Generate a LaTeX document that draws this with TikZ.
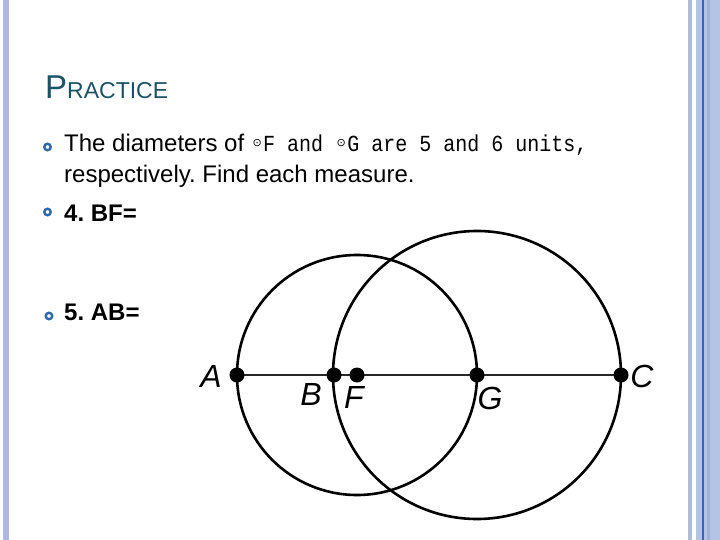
\documentclass[tikz,border=0pt]{standalone}
\usepackage{fontspec}
\setmainfont{Liberation Sans}
\newfontfamily\monofont[FakeStretch=0.87]{Liberation Mono}
\newfontfamily\symfont{DejaVu Sans}
\usepackage{xcolor}
\usepackage{tikz}
\definecolor{titleteal}{RGB}{28, 82, 102}
\definecolor{bulletblue}{RGB}{46, 106, 170}
\definecolor{stripblue}{RGB}{180, 196, 230}
\definecolor{stripgray}{RGB}{176, 188, 214}
\definecolor{stripdark}{RGB}{160, 178, 214}
\definecolor{lineblue}{RGB}{60, 100, 176}
\definecolor{leftstrip}{RGB}{176, 184, 224}
\definecolor{linegray}{RGB}{40, 40, 40}
\usetikzlibrary{positioning, calc}
\frenchspacing

% small circle sign, one mono cell wide
\newcommand{\circsign}{\makebox[12pt]{\raisebox{5pt}{\symfont\fontsize{11}{11}\selectfont ⊙}}}

\begin{document}
\begin{tikzpicture}[
    x=1pt, y=-1pt,
    every node/.style={inner sep=0pt},
    bodytext/.style={anchor=base west, font=\fontsize{24}{28}\selectfont},
    monotext/.style={anchor=base west, font=\monofont\fontsize{23}{27}\selectfont},
    bulletmark/.style={circle, draw=bulletblue, line width=2.4pt, minimum size=6.5pt},
    pointdot/.style={circle, fill=black, minimum size=15pt},
    pointlabel/.style={font=\fontsize{32}{32}\selectfont\itshape},
    circleline/.style={line width=2.6pt, black},
    segline/.style={line width=2.2pt, linegray}
]
    \useasboundingbox (0,0) rectangle (720,540);

    % Slide strips
    \fill[leftstrip] (3,0) rectangle (9,540);
    \fill[stripgray] (688,0) rectangle (692,540);
    \fill[stripblue] (696,0) rectangle (720,540);
    \fill[stripdark] (707,0) rectangle (710,540);
    \fill[lineblue] (702,0) rectangle (703.5,540);

    % Title
    \node[anchor=base west, text=titleteal] (title) at (45,99)
        {{\fontsize{33}{33}\selectfont P}{\fontsize{23}{23}\selectfont RACTICE}};

    % Bullets and text
    \node[bulletmark] (b1) at (47.5,147) {};
    \node[bodytext] (t1) at (64,152) {The diameters of};
    \node[monotext] (t1m) at (251,152)
        {\circsign F and \circsign G are 5 and 6 units,};
    \node[bodytext] (t2) at (64,183) {respectively. Find each measure.};
    \node[bulletmark] (b2) at (47.5,212) {};
    \node[bodytext, font=\fontsize{24}{28}\selectfont\bfseries] (t3) at (64,222) {4. BF=};
    \node[bulletmark] (b3) at (49,316) {};
    \node[bodytext, font=\fontsize{24}{28}\selectfont\bfseries] (t4) at (64,320) {5. AB=};

    % Points on the line
    \coordinate (A) at (237,375);
    \coordinate (B) at (334,375);
    \coordinate (F) at (357,375);
    \coordinate (G) at (477,375);
    \coordinate (C) at (621,375);

    % Circles and segment
    \draw[circleline] (F) circle[radius=120];
    \draw[circleline] (G) circle[radius=144];
    \draw[segline] (A) -- (C);

    \foreach \p in {A,B,F,G,C}
        \node[pointdot] (dot\p) at (\p) {};

    % Labels
    \node[pointlabel] (labA) at (211,376) {A};
    \node[pointlabel] (labB) at (311,394) {B};
    \node[pointlabel] (labF) at (354,397) {F};
    \node[pointlabel] (labG) at (490,398) {G};
    \node[pointlabel] (labC) at (642,376) {C};
\end{tikzpicture}
\end{document}
